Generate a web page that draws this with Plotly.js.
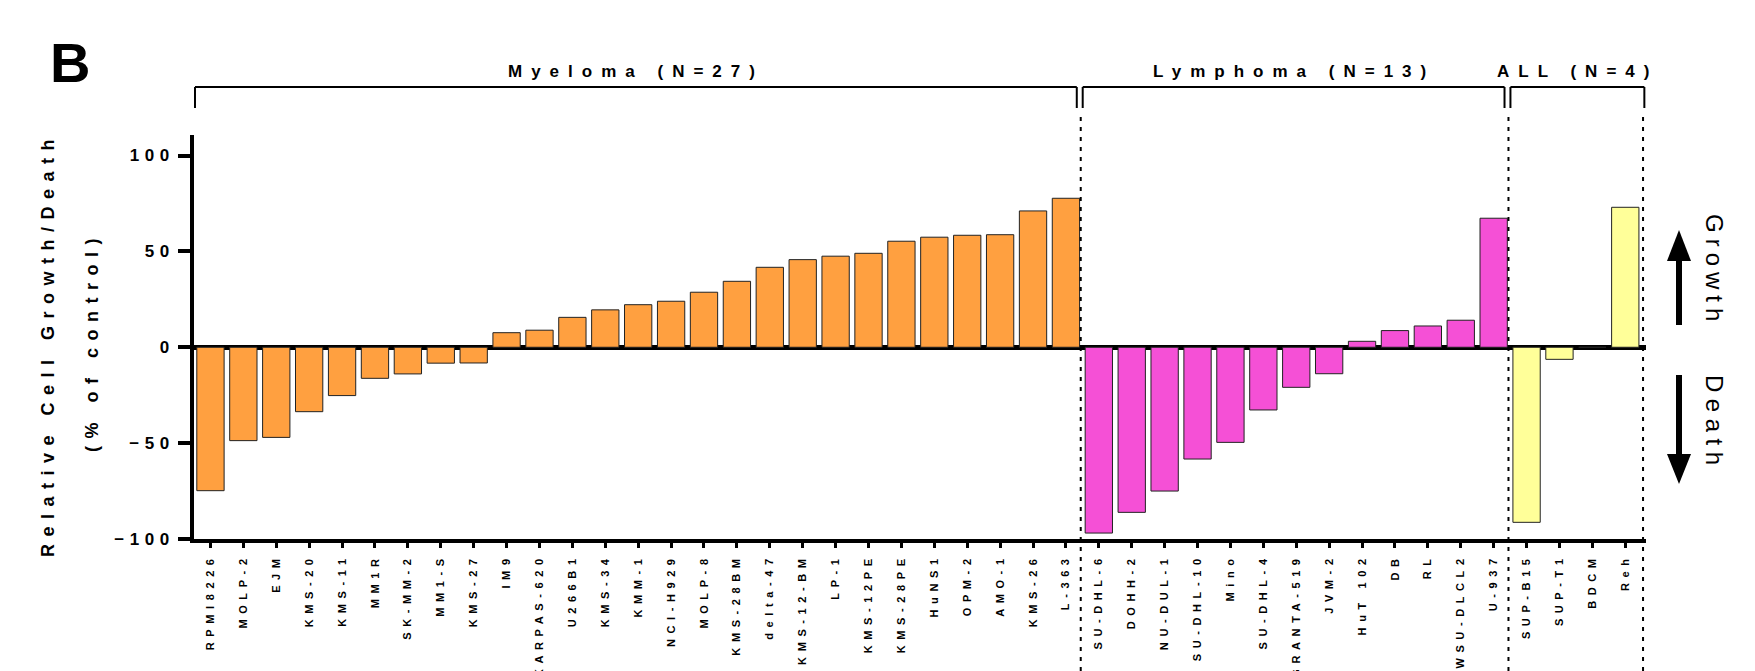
<!DOCTYPE html>
<html><head><meta charset="utf-8">
<script src="https://cdn.plot.ly/plotly-3.0.1.min.js"></script>
<style>
html,body{margin:0;padding:0;background:#fff;}
#chart{width:1755px;height:671px;}
.xtick text{letter-spacing:5.6px;}
.ytick text{letter-spacing:5.5px;}
</style></head><body><div id="chart"></div>
<script>
// ---- data ----
const myelomaLines = ['RPMI8226','MOLP-2','EJM','KMS-20','KMS-11','MM1R','SK-MM-2','MM1-S','KMS-27','IM9',
  'KARPAS-620','U266B1','KMS-34','KMM-1','NCI-H929','MOLP-8','KMS-28BM','delta-47','KMS-12-BM','LP-1',
  'KMS-12PE','KMS-28PE','HuNS1','OPM-2','AMO-1','KMS-26','L-363'];
const myelomaValues = [-74.8,-48.7,-47.0,-33.6,-25.2,-16.2,-13.9,-8.3,-8.2,7.6,
  8.9,15.6,19.5,22.2,24.0,28.7,34.4,41.7,45.7,47.5,
  49.0,55.3,57.4,58.4,58.7,71.1,77.7];
const lymphomaLines = ['SU-DHL-6','DOHH-2','NU-DUL-1','SU-DHL-10','Mino','SU-DHL-4','GRANTA-519','JVM-2',
  'HuT 102','DB','RL','WSU-DLCL2','U-937'];
const lymphomaValues = [-96.9,-86.1,-75.0,-58.3,-49.6,-32.7,-20.9,-13.8,3.1,8.7,11.1,14.1,67.3];
const allLines = ['SUP-B15','SUP-T1','BDCM','Reh'];
const allValues = [-91.3,-6.3,0,73.0];
const groupTitles = ['Myeloma (N=27)','Lymphoma (N=13)','ALL (N=4)'];
const groupColors = ['#FFA040','#F550D6','#FFFF99'];
const yTickValues = [-100,-50,0,50,100];
const yTitleLines = ['Relative Cell Growth/Death','(% of control)'];
const panelLetter = 'B';
const directionLabels = ['Growth','Death'];

// ---- layout geometry ----
const W = 1755, H = 671;
const M = {l:194, r:109, t:135, b:132};
const PW = W - M.l - M.r, PH = H - M.t - M.b;
const xp = px => (px - M.l) / PW;
const yp = py => (H - M.b - py) / PH;
const FONT = 'Liberation Sans, Arial, sans-serif';

const groups = [
  {names: myelomaLines, values: myelomaValues},
  {names: lymphomaLines, values: lymphomaValues},
  {names: allLines, values: allValues}
];
const allNames = groups.flatMap(g => g.names);

const traces = groups.map((g, i) => ({
  type: 'bar', x: g.names, y: g.values,
  marker: {color: groupColors[i], line: {color: '#222', width: 1}},
  hoverinfo: 'x+y', showlegend: false
}));

const shapes = [], annotations = [];
// group brackets and dashed separators
let start = 0;
const yTop = yp(87), yBot = yp(108);
groups.forEach((g, i) => {
  const end = start + g.names.length;
  const last = i === groups.length - 1;
  const left = i === 0 ? -0.47 : start - 0.55 + 0.06;
  const right = last ? end - 0.42 : end - 0.55 - 0.12;
  const ln = {color: '#000', width: 2};
  shapes.push({type:'line', xref:'x', yref:'paper', x0:left, x1:right, y0:yTop, y1:yTop, line:ln});
  shapes.push({type:'line', xref:'x', yref:'paper', x0:left, x1:left, y0:yTop, y1:yBot, line:ln});
  shapes.push({type:'line', xref:'x', yref:'paper', x0:right, x1:right, y0:yTop, y1:yBot, line:ln});
  const dx = last ? end - 0.46 : end - 0.55;
  shapes.push({type:'line', xref:'x', yref:'paper', x0:dx, x1:dx, y0:yp(117), y1:yp(H),
    line:{color:'#000', width:2, dash:'4px,6px'}});
  annotations.push({xref:'x', yref:'paper', x:(left + right) / 2, y:yp(71), showarrow:false,
    xanchor:'center', yanchor:'middle',
    text:'<span style="letter-spacing:9px">' + groupTitles[i] + '</span>',
    font:{family:FONT, size:17, color:'#000', weight:'bold'}});
  start = end;
});

// arrows (Growth / Death)
const poly = pts => 'M ' + pts.map(p => xp(p[0]) + ',' + yp(p[1])).join(' L ') + ' Z';
const ax = 1679;
shapes.push({type:'path', xref:'paper', yref:'paper', path:poly([[ax-3,258],[ax+3,258],[ax+3,325],[ax-3,325]]), fillcolor:'#000', line:{width:0}});
shapes.push({type:'path', xref:'paper', yref:'paper', path:poly([[ax,230],[ax+12,261],[ax-12,261]]), fillcolor:'#000', line:{width:0}});
shapes.push({type:'path', xref:'paper', yref:'paper', path:poly([[ax-3,375],[ax+3,375],[ax+3,456],[ax-3,456]]), fillcolor:'#000', line:{width:0}});
shapes.push({type:'path', xref:'paper', yref:'paper', path:poly([[ax,484],[ax+12,454],[ax-12,454]]), fillcolor:'#000', line:{width:0}});

annotations.push({xref:'paper', yref:'paper', x:xp(1715), y:yp(271), showarrow:false, textangle:90,
  xanchor:'center', yanchor:'middle',
  text:'<span style="letter-spacing:6px">' + directionLabels[0] + '</span>',
  font:{family:FONT, size:24, color:'#000'}});
annotations.push({xref:'paper', yref:'paper', x:xp(1715), y:yp(424), showarrow:false, textangle:90,
  xanchor:'center', yanchor:'middle',
  text:'<span style="letter-spacing:6.5px">' + directionLabels[1] + '</span>',
  font:{family:FONT, size:24, color:'#000'}});

// y title (two lines)
annotations.push({xref:'paper', yref:'paper', x:xp(48), y:yp(345), showarrow:false, textangle:-90,
  xanchor:'center', yanchor:'middle',
  text:'<span style="letter-spacing:7.5px">' + yTitleLines[0] + '</span>',
  font:{family:FONT, size:18, color:'#000', weight:'bold'}});
annotations.push({xref:'paper', yref:'paper', x:xp(92), y:yp(342), showarrow:false, textangle:-90,
  xanchor:'center', yanchor:'middle',
  text:'<span style="letter-spacing:7.5px">' + yTitleLines[1] + '</span>',
  font:{family:FONT, size:18, color:'#000', weight:'bold'}});

// panel letter
annotations.push({xref:'paper', yref:'paper', x:xp(70), y:yp(62), showarrow:false,
  xanchor:'center', yanchor:'middle', text:panelLetter,
  font:{family:FONT, size:56, color:'#000', weight:'bold'}});

const layout = {
  width: W, height: H,
  margin: M,
  paper_bgcolor: '#fff', plot_bgcolor: '#fff',
  barmode: 'overlay', bargap: 0.17,
  font: {family: FONT, color: '#000'},
  xaxis: {
    type: 'category', categoryorder: 'array', categoryarray: allNames,
    range: [-0.5, 43.63], fixedrange: true,
    showline: true, linecolor: '#000', linewidth: 4,
    ticks: 'outside', ticklen: 5, tickwidth: 3, tickcolor: '#000',
    tickangle: -90, ticklabelstandoff: 1,
    tickfont: {family: FONT, size: 11, color: '#000', weight: 'bold'},
    showgrid: false, zeroline: false, automargin: false
  },
  yaxis: {
    range: [-100, 110.7], fixedrange: true,
    tickmode: 'array', tickvals: yTickValues,
    showline: true, linecolor: '#000', linewidth: 4,
    ticks: 'outside', ticklen: 12, tickwidth: 4, tickcolor: '#000',
    tickfont: {family: FONT, size: 17, color: '#000', weight: 'bold'},
    showgrid: false, zeroline: true, zerolinecolor: '#000', zerolinewidth: 4.5,
    automargin: false
  },
  shapes: shapes,
  annotations: annotations
};

Plotly.newPlot('chart', traces, layout, {displayModeBar: false, staticPlot: true});
</script></body></html>
